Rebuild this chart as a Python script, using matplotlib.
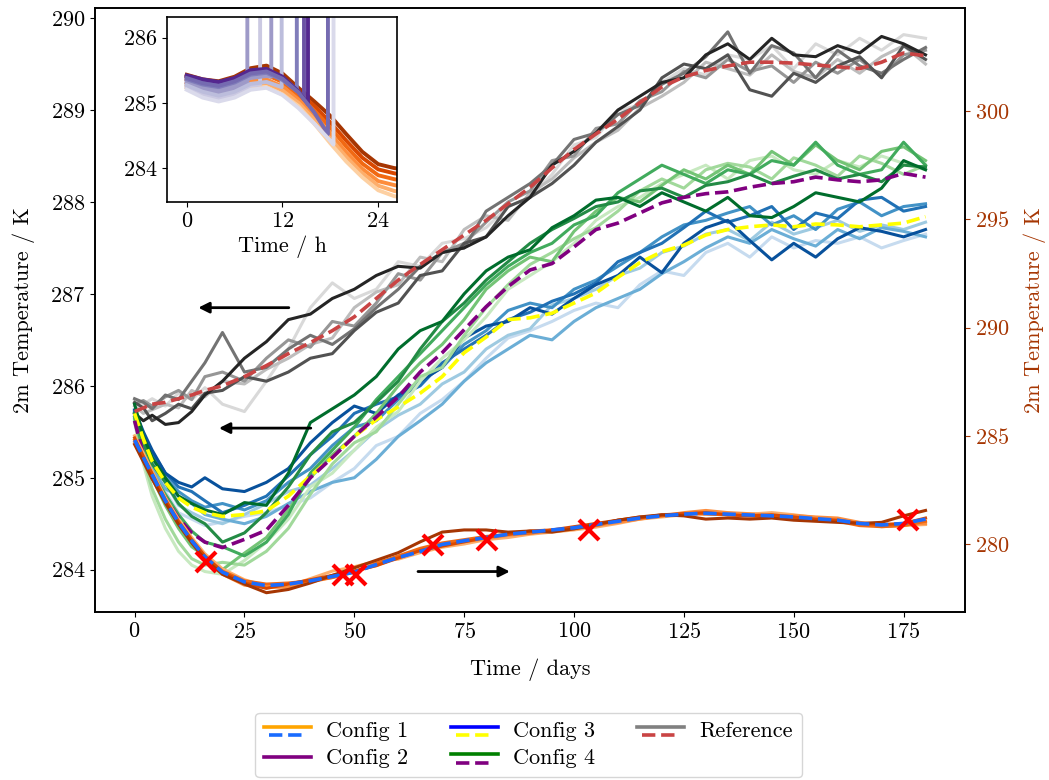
import matplotlib
matplotlib.use("Agg")
import matplotlib.pyplot as plt
from matplotlib.legend_handler import HandlerBase
from matplotlib.lines import Line2D

plt.rcParams['font.family'] = 'cmr10'
plt.rcParams['mathtext.fontset'] = 'cm'
plt.rcParams['axes.formatter.use_mathtext'] = True
plt.rcParams['font.size'] = 16

# ---- main panel data (days) ----
days = [0, 2, 4, 7, 10, 13, 16] + list(range(20, 181, 5))

ref_mean = [285.72, 285.76, 285.80, 285.82, 285.86, 285.90, 285.95, 286.00, 286.10, 286.22,
            286.35, 286.47, 286.60, 286.75, 286.95, 287.15, 287.32, 287.48, 287.64, 287.80,
            287.98, 288.16, 288.37, 288.57, 288.74, 288.90, 289.08, 289.25, 289.36, 289.43,
            289.48, 289.52, 289.52, 289.51, 289.49, 289.47, 289.45, 289.52, 289.62, 289.59]
ref_1 = [285.85, 285.80, 285.86, 285.78, 285.92, 285.85, 285.98, 285.80, 285.72, 286.05,
         286.40, 286.85, 287.12, 286.95, 287.05, 287.35, 287.30, 287.55, 287.60, 287.72,
         287.95, 288.05, 288.30, 288.62, 288.70, 289.00, 289.05, 289.30, 289.45, 289.38,
         289.60, 289.55, 289.70, 289.45, 289.72, 289.60, 289.78, 289.65, 289.82, 289.78]
ref_2 = [285.78, 285.70, 285.74, 285.80, 285.76, 285.95, 285.88, 286.05, 286.02, 286.18,
         286.30, 286.45, 286.52, 286.85, 287.02, 287.10, 287.40, 287.35, 287.70, 287.85,
         287.80, 288.10, 288.25, 288.48, 288.65, 288.78, 289.02, 289.15, 289.30, 289.52,
         289.45, 289.38, 289.60, 289.42, 289.35, 289.55, 289.40, 289.58, 289.70, 289.50]
ref_3 = [285.80, 285.84, 285.78, 285.88, 285.95, 285.85, 286.10, 286.15, 286.05, 286.30,
         286.50, 286.42, 286.70, 286.65, 286.90, 287.22, 287.15, 287.45, 287.55, 287.78,
         288.00, 288.12, 288.45, 288.50, 288.80, 288.85, 289.10, 289.20, 289.42, 289.35,
         289.55, 289.42, 289.48, 289.30, 289.52, 289.40, 289.55, 289.36, 289.60, 289.65]
ref_4 = [285.86, 285.82, 285.75, 285.90, 285.85, 286.05, 286.25, 286.58, 286.15, 286.20,
         286.40, 286.55, 286.45, 286.62, 286.85, 287.05, 287.30, 287.45, 287.50, 287.90,
         288.05, 288.20, 288.40, 288.68, 288.75, 288.95, 289.05, 289.28, 289.40, 289.58,
         289.85, 289.40, 289.70, 289.62, 289.35, 289.65, 289.48, 289.40, 289.55, 289.68]
ref_5 = [285.82, 285.76, 285.62, 285.70, 285.80, 285.75, 285.92, 285.95, 286.10, 286.05,
         286.15, 286.30, 286.35, 286.60, 286.80, 286.90, 287.20, 287.25, 287.55, 287.62,
         287.95, 288.05, 288.20, 288.40, 288.65, 288.82, 289.00, 289.35, 289.50, 289.45,
         289.60, 289.22, 289.15, 289.40, 289.30, 289.48, 289.58, 289.35, 289.70, 289.55]
ref_6 = [285.70, 285.62, 285.68, 285.58, 285.60, 285.72, 285.90, 286.05, 286.30, 286.48,
         286.72, 286.78, 286.95, 287.05, 287.20, 287.30, 287.28, 287.45, 287.50, 287.62,
         287.85, 288.05, 288.40, 288.55, 288.75, 289.00, 289.15, 289.30, 289.35, 289.60,
         289.72, 289.55, 289.78, 289.60, 289.58, 289.70, 289.62, 289.80, 289.72, 289.60]

c3_mean = [285.70, 285.42, 285.18, 284.95, 284.78, 284.68, 284.62, 284.58, 284.60, 284.64,
           284.80, 285.02, 285.22, 285.45, 285.63, 285.77, 285.92, 286.10, 286.36, 286.53,
           286.72, 286.74, 286.79, 286.90, 287.01, 287.18, 287.34, 287.46, 287.53, 287.64,
           287.70, 287.73, 287.75, 287.73, 287.76, 287.75, 287.73, 287.75, 287.77, 287.84]
c3_1 = [285.72, 285.40, 285.12, 284.85, 284.62, 284.55, 284.48, 284.52, 284.58, 284.62,
        284.70, 284.78, 284.95, 285.10, 285.35, 285.45, 285.70, 285.85, 286.05, 286.30,
        286.52, 286.60, 286.70, 286.82, 286.90, 286.85, 287.10, 287.25, 287.20, 287.45,
        287.55, 287.40, 287.62, 287.50, 287.58, 287.55, 287.62, 287.50, 287.58, 287.65]
c3_2 = [285.68, 285.45, 285.20, 284.95, 284.70, 284.62, 284.55, 284.50, 284.60, 284.72,
        284.85, 284.92, 285.10, 285.30, 285.52, 285.68, 285.80, 286.02, 286.15, 286.40,
        286.55, 286.62, 286.88, 286.95, 287.05, 287.20, 287.28, 287.45, 287.52, 287.65,
        287.70, 287.58, 287.78, 287.65, 287.72, 287.80, 287.68, 287.75, 287.70, 287.78]
c3_3 = [285.66, 285.38, 285.10, 284.88, 284.80, 284.72, 284.60, 284.55, 284.50, 284.58,
        284.72, 284.85, 284.95, 285.00, 285.20, 285.45, 285.62, 285.80, 286.05, 286.25,
        286.40, 286.55, 286.50, 286.70, 286.85, 286.95, 287.05, 287.22, 287.35, 287.50,
        287.62, 287.55, 287.70, 287.60, 287.52, 287.70, 287.60, 287.72, 287.68, 287.62]
c3_4 = [285.70, 285.45, 285.25, 285.00, 284.85, 284.75, 284.68, 284.72, 284.65, 284.75,
        284.95, 285.10, 285.35, 285.55, 285.62, 285.85, 286.05, 286.20, 286.45, 286.60,
        286.82, 286.90, 286.85, 287.05, 287.15, 287.30, 287.45, 287.62, 287.75, 287.80,
        287.88, 287.95, 287.75, 287.85, 287.70, 287.92, 288.00, 287.85, 287.95, 287.98]
c3_5 = [285.72, 285.48, 285.28, 285.05, 284.90, 284.85, 284.75, 284.62, 284.70, 284.80,
        285.02, 285.25, 285.45, 285.70, 285.80, 285.88, 286.00, 286.25, 286.40, 286.55,
        286.72, 286.80, 286.92, 287.00, 287.12, 287.35, 287.45, 287.55, 287.72, 287.90,
        287.78, 287.85, 287.95, 287.70, 287.88, 287.82, 288.02, 288.05, 287.90, 287.95]
c3_6 = [285.74, 285.50, 285.30, 285.05, 284.95, 284.90, 285.00, 284.88, 284.85, 284.95,
        285.10, 285.38, 285.60, 285.78, 285.70, 285.90, 286.05, 286.20, 286.52, 286.65,
        286.70, 286.85, 286.78, 286.95, 287.10, 287.20, 287.40, 287.23, 287.55, 287.72,
        287.80, 287.58, 287.37, 287.55, 287.40, 287.60, 287.72, 287.68, 287.62, 287.70]

c4_mean = [285.62, 285.25, 285.00, 284.78, 284.56, 284.40, 284.30, 284.24, 284.33, 284.43,
           284.70, 285.00, 285.22, 285.45, 285.66, 285.88, 286.15, 286.36, 286.61, 286.86,
           287.08, 287.26, 287.33, 287.51, 287.70, 287.77, 287.88, 287.99, 288.05, 288.09,
           288.11, 288.16, 288.20, 288.22, 288.27, 288.24, 288.22, 288.24, 288.31, 288.27]
c4_1 = [285.60, 285.15, 284.80, 284.45, 284.20, 284.05, 283.98, 283.95, 284.10, 284.30,
        284.55, 284.90, 285.05, 285.30, 285.55, 285.72, 286.05, 286.30, 286.50, 286.75,
        287.05, 287.20, 287.35, 287.55, 287.80, 287.95, 288.05, 288.20, 288.30, 288.40,
        288.25, 288.45, 288.50, 288.35, 288.30, 288.45, 288.38, 288.50, 288.42, 288.35]
c4_2 = [285.62, 285.20, 284.88, 284.55, 284.30, 284.12, 284.05, 284.08, 284.05, 284.20,
        284.45, 284.82, 285.15, 285.38, 285.50, 285.80, 286.10, 286.20, 286.55, 286.85,
        287.10, 287.32, 287.45, 287.60, 287.72, 287.90, 288.12, 288.25, 288.15, 288.35,
        288.42, 288.38, 288.25, 288.48, 288.40, 288.28, 288.50, 288.42, 288.30, 288.40]
c4_3 = [285.64, 285.28, 285.00, 284.70, 284.45, 284.25, 284.15, 284.00, 284.18, 284.35,
        284.65, 285.00, 285.25, 285.45, 285.70, 286.00, 286.25, 286.45, 286.72, 287.05,
        287.25, 287.40, 287.35, 287.68, 287.90, 288.05, 288.00, 288.18, 288.35, 288.25,
        288.40, 288.30, 288.55, 288.40, 288.62, 288.45, 288.35, 288.55, 288.60, 288.45]
c4_4 = [285.66, 285.30, 285.05, 284.82, 284.60, 284.42, 284.30, 284.25, 284.15, 284.30,
        284.60, 285.05, 285.30, 285.55, 285.85, 286.10, 286.35, 286.60, 286.85, 287.10,
        287.30, 287.45, 287.55, 287.75, 287.85, 288.10, 288.25, 288.40, 288.30, 288.20,
        288.35, 288.30, 288.45, 288.40, 288.65, 288.40, 288.30, 288.35, 288.65, 288.40]
c4_5 = [285.70, 285.38, 285.15, 284.95, 284.72, 284.58, 284.50, 284.30, 284.40, 284.62,
        284.90, 285.25, 285.50, 285.60, 285.82, 286.05, 286.40, 286.70, 286.90, 287.15,
        287.35, 287.55, 287.70, 287.82, 287.95, 288.00, 288.12, 288.15, 288.05, 288.18,
        288.22, 288.30, 288.20, 288.28, 288.35, 288.25, 288.30, 288.22, 288.40, 288.38]
c4_6 = [285.80, 285.45, 285.22, 285.00, 284.80, 284.72, 284.65, 284.60, 284.73, 284.70,
        285.05, 285.60, 285.75, 285.90, 286.10, 286.40, 286.60, 286.70, 287.00, 287.25,
        287.40, 287.48, 287.72, 287.85, 288.02, 288.05, 287.95, 288.10, 288.00, 287.90,
        288.05, 287.85, 287.83, 287.95, 288.10, 288.05, 288.00, 288.15, 288.45, 288.35]

# config 1 is on the right axis
c1_mean = [284.80, 284.00, 283.20, 282.00, 281.00, 280.15, 279.40, 278.70, 278.25, 278.08,
           278.15, 278.30, 278.50, 278.70, 279.05, 279.38, 279.65, 279.98, 280.15, 280.30,
           280.45, 280.55, 280.65, 280.75, 280.90, 281.05, 281.20, 281.30, 281.38, 281.42,
           281.38, 281.34, 281.30, 281.25, 281.17, 281.10, 280.95, 280.88, 280.95, 281.15]
c1_1 = [285.00, 284.20, 283.35, 282.15, 281.15, 280.30, 279.55, 278.85, 278.35, 278.05,
        278.05, 278.40, 278.75, 278.95, 279.20, 279.30, 279.60, 279.85, 280.00, 280.20,
        280.30, 280.45, 280.55, 280.65, 280.78, 280.95, 281.15, 281.25, 281.35, 281.50,
        281.42, 281.38, 281.45, 281.35, 281.22, 281.12, 280.98, 280.80, 280.85, 280.90]
c1_2 = [284.70, 283.90, 283.10, 281.95, 280.95, 280.10, 279.35, 278.60, 278.10, 278.00,
        278.00, 278.25, 278.45, 278.75, 279.00, 279.40, 279.70, 280.00, 280.10, 280.25,
        280.40, 280.50, 280.60, 280.75, 280.85, 281.00, 281.15, 281.30, 281.45, 281.55,
        281.45, 281.40, 281.30, 281.32, 281.25, 281.20, 281.00, 280.85, 280.90, 280.95]
c1_3 = [284.80, 284.00, 283.20, 282.00, 280.95, 280.10, 279.40, 278.75, 278.30, 278.15,
        278.20, 278.30, 278.45, 278.70, 279.10, 279.45, 279.80, 280.05, 280.20, 280.35,
        280.45, 280.50, 280.65, 280.70, 280.85, 281.10, 281.25, 281.30, 281.40, 281.38,
        281.35, 281.30, 281.25, 281.22, 281.10, 281.05, 280.85, 280.80, 280.85, 281.05]
c1_4 = [284.90, 284.05, 283.25, 282.05, 281.05, 280.20, 279.45, 278.70, 278.20, 277.95,
        278.15, 278.35, 278.55, 278.75, 279.00, 279.35, 279.70, 279.90, 280.10, 280.30,
        280.45, 280.60, 280.65, 280.80, 280.95, 281.10, 281.20, 281.35, 281.40, 281.45,
        281.35, 281.30, 281.35, 281.25, 281.15, 281.10, 280.95, 280.90, 280.95, 281.20]
c1_5 = [284.60, 283.80, 283.00, 281.90, 280.90, 280.05, 279.30, 278.60, 278.15, 277.75,
        277.90, 278.20, 278.55, 278.90, 279.25, 279.60, 280.10, 280.55, 280.65, 280.65,
        280.55, 280.60, 280.55, 280.70, 280.90, 281.10, 281.25, 281.35, 281.30, 281.15,
        281.20, 281.15, 281.20, 281.10, 281.05, 281.00, 280.95, 281.00, 281.30, 281.55]

# config 2 crash markers (right axis)
crash_days = [16.3, 47.5, 50.3, 68.0, 80.1, 103.5, 175.9]
crash_temps = [279.18, 278.57, 278.57, 279.95, 280.18, 280.65, 281.11]

# ---- inset data (hours) ----
hours = list(range(0, 29, 2))
in_c1 = [
    [285.43, 285.36, 285.33, 285.40, 285.53, 285.57, 285.45, 285.23, 285.02, 284.80, 284.52, 284.25, 284.06, 284.00, 283.97],
    [285.40, 285.32, 285.28, 285.35, 285.47, 285.50, 285.39, 285.17, 284.95, 284.70, 284.42, 284.16, 283.98, 283.92, 283.88],
    [285.36, 285.27, 285.23, 285.29, 285.40, 285.43, 285.32, 285.11, 284.88, 284.62, 284.33, 284.07, 283.89, 283.83, 283.79],
    [285.31, 285.22, 285.17, 285.22, 285.33, 285.36, 285.25, 285.05, 284.81, 284.53, 284.24, 283.99, 283.80, 283.74, 283.70],
    [285.27, 285.17, 285.12, 285.17, 285.27, 285.30, 285.19, 285.00, 284.74, 284.45, 284.17, 283.92, 283.73, 283.65, 283.61],
    [285.23, 285.13, 285.08, 285.12, 285.22, 285.24, 285.13, 284.95, 284.68, 284.38, 284.10, 283.86, 283.66, 283.57, 283.53],
]
in_c1_colors = ['#a63603', '#d94801', '#f16913', '#fd8d3c', '#fdae6b', '#fdd0a2']

in_c2 = [
    [285.30, 285.21, 285.16, 285.22],
    [285.24, 285.13, 285.07, 285.13, 285.26],
    [285.33, 285.24, 285.19, 285.26, 285.38, 285.41],
    [285.27, 285.17, 285.11, 285.17, 285.29, 285.32],
    [285.36, 285.28, 285.24, 285.31, 285.43, 285.46, 285.35],
    [285.40, 285.33, 285.29, 285.36, 285.48, 285.50, 285.39, 285.18],
    [285.42, 285.36, 285.32, 285.38, 285.50, 285.52, 285.40, 285.17],
    [285.38, 285.30, 285.26, 285.33, 285.45, 285.48, 285.37, 285.16, 284.85],
    [285.20, 285.08, 285.02, 285.08, 285.20, 285.23, 285.12, 284.92, 284.68, 284.42],
]
in_c2_crash_h = [7.6, 9.2, 10.6, 11.9, 13.8, 14.7, 15.2, 17.7, 18.4]
in_c2_crash_t = [285.30, 285.28, 285.40, 285.24, 285.18, 285.06, 284.98, 284.52, 284.36]
blowup_t = 300.0
in_c2_colors = ['#9e9ac8', '#cbc9e2', '#9e9ac8', '#bcbddc', '#807dba',
                '#6a51a3', '#54278f', '#756bb1', '#dadaeb']

ref_members = [ref_1, ref_2, ref_3, ref_4, ref_5, ref_6]
ref_colors = ['#d9d9d9', '#bdbdbd', '#969696', '#737373', '#525252', '#252525']
c3_members = [c3_1, c3_2, c3_3, c3_4, c3_5, c3_6]
c3_colors = ['#c6dbef', '#9ecae1', '#6baed6', '#4292c6', '#2171b5', '#08519c']
c4_members = [c4_1, c4_2, c4_3, c4_4, c4_5, c4_6]
c4_colors = ['#c7e9c0', '#a1d99b', '#74c476', '#41ab5d', '#238b45', '#006d2c']
c1_members = [c1_1, c1_2, c1_3, c1_4, c1_5]
c1_colors = ['#fdae6b', '#fd8d3c', '#f16913', '#d94801', '#a63603']

brown = '#a63603'
red_dash = '#c94444'
blue_dash = '#1a6cff'

fig = plt.figure(figsize=(10.49, 7.8), dpi=100)
ax = fig.add_axes([0.0906, 0.2154, 0.8294, 0.7744])
ax2 = ax.twinx()

for vals, c in zip(ref_members, ref_colors):
    ax.plot(days, vals, color=c, lw=2.2)
for vals, c in zip(c3_members, c3_colors):
    ax.plot(days, vals, color=c, lw=2.2)
for vals, c in zip(c4_members, c4_colors):
    ax.plot(days, vals, color=c, lw=2.2)
ax.plot(days, ref_mean, color=red_dash, ls='--', lw=2.6)
ax.plot(days, c3_mean, color='yellow', ls='--', lw=2.6)
ax.plot(days, c4_mean, color='purple', ls='--', lw=2.6)

for vals, c in zip(c1_members, c1_colors):
    ax2.plot(days, vals, color=c, lw=2.2)
ax2.plot(days, c1_mean, color=blue_dash, ls='--', lw=2.6)
ax2.plot(crash_days, crash_temps, ls='none', marker='x', color='red', ms=14, mew=3)

arrow = dict(arrowstyle='-|>', color='black', lw=2, mutation_scale=16, shrinkA=0, shrinkB=0)
ax.annotate('', xy=(14.5, 286.85), xytext=(35.1, 286.85), arrowprops=arrow)
ax.annotate('', xy=(19.2, 285.54), xytext=(40.1, 285.54), arrowprops=arrow)
ax.annotate('', xy=(85.4, 283.98), xytext=(64.5, 283.98), arrowprops=arrow)

ax.set_xlim(-9, 189)
ax.set_ylim(283.54, 290.11)
ax2.set_ylim(276.86, 304.76)
ax.set_xticks([0, 25, 50, 75, 100, 125, 150, 175])
ax.set_yticks([284, 285, 286, 287, 288, 289, 290])
ax2.set_yticks([280, 285, 290, 295, 300])
ax.set_xlabel('Time / days', labelpad=12)
ax.set_ylabel('2m Temperature / K', labelpad=11)
ax2.set_ylabel('2m Temperature / K', color=brown, labelpad=10)
ax2.tick_params(axis='y', colors=brown)
for a in (ax, ax2):
    for s in a.spines.values():
        s.set_linewidth(1.2)

# inset
axin = fig.add_axes([0.1595, 0.7410, 0.2193, 0.2368])
for vals, c in zip(in_c1, in_c1_colors):
    axin.plot(hours, vals, color=c, lw=2.8)
for vals, ch, ct, c in zip(in_c2, in_c2_crash_h, in_c2_crash_t, in_c2_colors):
    xs = hours[:len(vals)] + [ch, ch]
    ys = vals + [ct, blowup_t]
    axin.plot(xs, ys, color=c, lw=2.8)
axin.set_xlim(-2.43, 26.4)
axin.set_ylim(283.48, 286.31)
axin.set_xticks([0, 12, 24])
axin.set_yticks([284, 285, 286])
axin.set_xlabel('Time / h', labelpad=3)
for s in axin.spines.values():
    s.set_linewidth(1.2)


class StackedHandler(HandlerBase):
    def create_artists(self, legend, orig_handle, xdescent, ydescent,
                       width, height, fontsize, trans):
        solid, dashed = orig_handle
        yc = height / 2 - ydescent
        top = Line2D([-xdescent, -xdescent + width], [yc + 1.5, yc + 1.5],
                     color=solid.get_color(), lw=solid.get_linewidth())
        bot = Line2D([-xdescent + 0.1 * width, -xdescent + 0.9 * width], [yc - 4.5, yc - 4.5],
                     color=dashed.get_color(), lw=dashed.get_linewidth(), ls='--')
        top.set_transform(trans)
        bot.set_transform(trans)
        return [top, bot]


def pair(solid_c, dash_c):
    return (Line2D([], [], color=solid_c, lw=2.6), Line2D([], [], color=dash_c, lw=2.6, ls='--'))


handles = [pair('orange', blue_dash), Line2D([], [], color='purple', lw=2.6),
           pair('blue', 'yellow'), pair('green', 'purple'),
           pair('gray', red_dash)]
labels = ['Config 1', 'Config 2', 'Config 3', 'Config 4', 'Reference']
fig.legend(handles, labels, loc='center', bbox_to_anchor=(0.504, 0.045), ncol=3,
           handler_map={tuple: StackedHandler()}, handlelength=2.1,
           handletextpad=0.7, columnspacing=1.9, labelspacing=0.35)

fig.savefig('out.png', dpi=100)
